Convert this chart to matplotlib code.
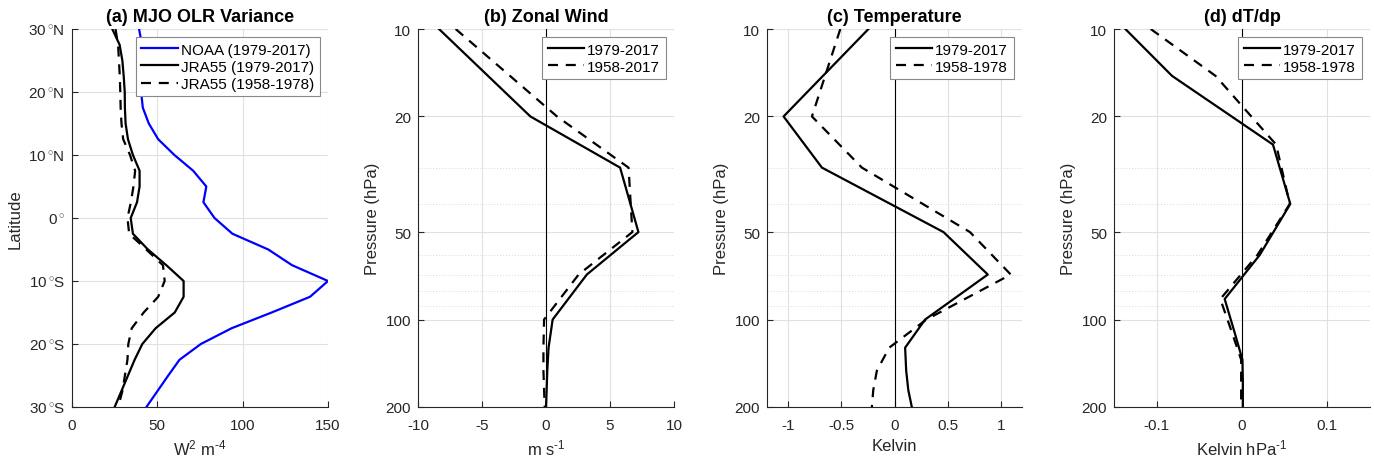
import matplotlib
matplotlib.use('Agg')
import matplotlib.pyplot as plt
from matplotlib.ticker import FixedLocator, LogLocator, NullFormatter, FixedFormatter

plt.rcParams['font.family'] = ['Liberation Sans', 'DejaVu Sans']
plt.rcParams['mathtext.fontset'] = 'custom'
plt.rcParams['mathtext.rm'] = 'Liberation Sans'
plt.rcParams['mathtext.it'] = 'Liberation Sans:italic'
plt.rcParams['mathtext.bf'] = 'Liberation Sans:bold'
plt.rcParams['axes.unicode_minus'] = False

# ---------------- data ----------------
lat = [30, 27.5, 25, 22.5, 20, 17.5, 15, 12.5, 10, 7.5, 5, 2.5, 0,
       -2.5, -5, -7.5, -10, -12.5, -15, -17.5, -20, -22.5, -25, -27.5, -30]
olr_noaa_79 = [39.3, 41, 40, 39.5, 40.5, 41.5, 45, 50.5, 60, 71, 78.7, 77, 83.5,
               94, 115, 129, 150, 139.5, 117, 93.5, 75.5, 63, 56.4, 50, 43.6]
olr_jra_79 = [23.6, 27.9, 29.5, 30.3, 30.9, 31.0, 31.4, 32.8, 35.7, 39.6, 39.6, 38.1, 34.4,
              35.7, 44.5, 55.3, 65.4, 65.4, 60.2, 49, 41.2, 36.7, 32.8, 28.9, 25]
olr_jra_58 = [25.5, 27, 27.5, 28, 28.3, 28.5, 29, 30, 34, 37, 36, 34.5, 32.5,
              33.5, 43.5, 53.3, 54.3, 50.5, 42, 35, 33, 32.5, 31, 29.5, 27]
lat_ticks = [30, 20, 10, 0, -10, -20, -30]
lat_labels = ['30$\\,^{\\circ}$N', '20$\\,^{\\circ}$N', '10$\\,^{\\circ}$N', '0$\\,^{\\circ}$',
              '10$\\,^{\\circ}$S', '20$\\,^{\\circ}$S', '30$\\,^{\\circ}$S']

plev = [10, 20, 30, 50, 70, 100, 125, 150, 175, 200]
u_79 = [-8.36, -1.22, 5.79, 7.22, 3.19, 0.52, 0.2, 0.1, 0.05, 0.0]
u_58 = [-7.06, 0.86, 6.45, 6.75, 2.55, -0.15, -0.2, -0.2, -0.15, -0.1]

t_79 = [-0.245, -1.044, -0.683, 0.461, 0.878, 0.288, 0.10, 0.11, 0.13, 0.163]
t_58 = [-0.51, -0.777, -0.307, 0.71, 1.094, 0.30, -0.05, -0.166, -0.2, -0.213]

plev_mid = [10, 14.5, 25, 40, 60, 85, 112.5, 137.5, 162.5, 187.5, 200]
dtdp_79 = [-0.1367, -0.082, 0.0363, 0.0566, 0.0207, -0.0203, -0.008, 0.0005, 0.001, 0.001, 0.001]
dtdp_58 = [-0.107, -0.031, 0.040, 0.056, 0.018, -0.0254, -0.011, -0.001, -0.001, -0.001, -0.001]

p_ticks = [10, 20, 50, 100, 200]

# ---------------- layout ----------------
W, H = 1374, 460
fig = plt.figure(figsize=(W / 100, H / 100), dpi=100)

def add_ax(l, r, t=30, b=408):
    return fig.add_axes([l / W, 1 - b / H, (r - l) / W, (b - t) / H])

TXT = '#262626'
LW = 1.6
DASH = (0, (4.5, 3.5))

def style(ax):
    for s in ['top', 'right']:
        ax.spines[s].set_visible(False)
    for s in ['left', 'bottom']:
        ax.spines[s].set_color(TXT)
        ax.spines[s].set_linewidth(0.8)
    ax.tick_params(which='major', direction='in', length=4, width=0.8,
                   labelsize=11, colors=TXT, pad=5)
    ax.tick_params(axis='x', which='major', pad=8)
    ax.tick_params(which='minor', length=0)
    ax.grid(True, which='major', color='#e0e0e0', lw=0.8)
    ax.set_axisbelow(True)

def legend(ax, loc='upper right'):
    lg = ax.legend(loc=loc, fontsize=11, handlelength=2.4, handletextpad=0.2,
                   borderpad=0.35, labelspacing=0.2, fancybox=False,
                   framealpha=1, edgecolor='#888888', borderaxespad=0.55)
    lg.get_frame().set_linewidth(0.8)
    return lg

# (a)
ax = add_ax(72, 328)
ax.plot(olr_noaa_79, lat, color='#0000ff', lw=LW, label='NOAA (1979-2017)')
ax.plot(olr_jra_79, lat, color='k', lw=LW, label='JRA55 (1979-2017)')
ax.plot(olr_jra_58, lat, color='k', lw=LW, ls=DASH, label='JRA55 (1958-1978)')
ax.set_xlim(0, 150)
ax.set_ylim(-30, 30)
ax.set_xticks([0, 50, 100, 150])
ax.yaxis.set_major_locator(FixedLocator(lat_ticks))
ax.yaxis.set_major_formatter(FixedFormatter(lat_labels))
style(ax)
ax.set_ylabel('Latitude', fontsize=12, color=TXT, labelpad=4)
ax.set_xlabel('W$^{2}$ m$^{\\text{-4}}$', fontsize=12, color=TXT, labelpad=4)
ax.set_title('(a) MJO OLR Variance', fontsize=13, fontweight='bold', pad=6)
legend(ax)

def pressure_axis(ax, xlim, xticks, xlabel, title):
    ax.set_yscale('log')
    ax.set_ylim(200, 10)
    ax.set_xlim(*xlim)
    ax.set_xticks(xticks)
    ax.yaxis.set_major_locator(FixedLocator(p_ticks))
    ax.yaxis.set_major_formatter(FixedFormatter([str(p) for p in p_ticks]))
    ax.yaxis.set_minor_locator(LogLocator(base=10, subs=(2, 3, 4, 5, 6, 7, 8, 9)))
    ax.yaxis.set_minor_formatter(NullFormatter())
    style(ax)
    ax.grid(True, which='minor', axis='y', color='#d8d8d8', lw=0.7, ls=(0, (1, 2)))
    ax.axvline(0, color='k', lw=0.8, zorder=1.5)
    ax.set_ylabel('Pressure (hPa)', fontsize=12, color=TXT, labelpad=4)
    ax.set_xlabel(xlabel, fontsize=12, color=TXT, labelpad=4)
    ax.set_title(title, fontsize=13, fontweight='bold', pad=6)

# (b)
ax = add_ax(418, 674)
ax.plot(u_79, plev, color='k', lw=LW, label='1979-2017')
ax.plot(u_58, plev, color='k', lw=LW, ls=DASH, label='1958-2017')
pressure_axis(ax, (-10, 10), [-10, -5, 0, 5, 10], 'm s$^{\\text{-1}}$', '(b) Zonal Wind')
legend(ax)

# (c)
ax = add_ax(767, 1022)
ax.plot(t_79, plev, color='k', lw=LW, label='1979-2017')
ax.plot(t_58, plev, color='k', lw=LW, ls=DASH, label='1958-1978')
pressure_axis(ax, (-1.2, 1.2), [-1, -0.5, 0, 0.5, 1], 'Kelvin', '(c) Temperature')
ax.set_xticklabels(['-1', '-0.5', '0', '0.5', '1'])
legend(ax)

# (d)
ax = add_ax(1114, 1370)
ax.plot(dtdp_79, plev_mid, color='k', lw=LW, label='1979-2017')
ax.plot(dtdp_58, plev_mid, color='k', lw=LW, ls=DASH, label='1958-1978')
pressure_axis(ax, (-0.15, 0.15), [-0.1, 0, 0.1], 'Kelvin hPa$^{\\text{-1}}$', '(d) dT/dp')
ax.set_xticklabels(['-0.1', '0', '0.1'])
legend(ax)

fig.savefig('out.png', dpi=100)
